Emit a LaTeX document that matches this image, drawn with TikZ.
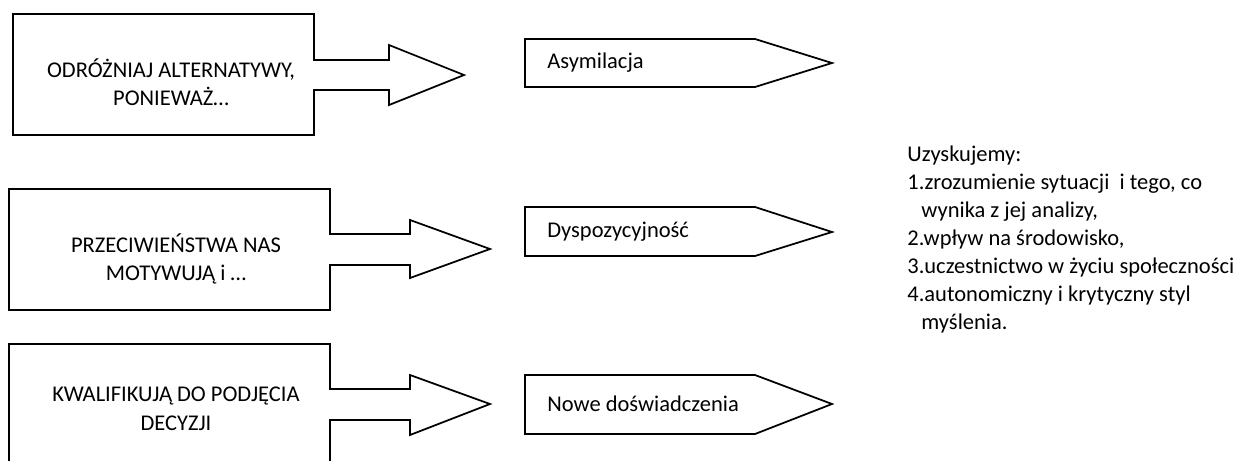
\documentclass[tikz,border=0pt]{standalone}
\usepackage{fontspec}
\setmainfont{Carlito}
\usetikzlibrary{positioning}
\tikzset{
  outline/.style={draw=black, line width=1pt, line join=miter},
  boxtext/.style={align=center, inner sep=0pt, font=\fontsize{12.8}{16.2}\selectfont},
  tagtext/.style={anchor=west, inner sep=0pt, font=\fontsize{12.8}{16.2}\selectfont},
  listtext/.style={anchor=north west, align=left, inner sep=0pt, font=\fontsize{12.8}{15.9}\selectfont},
}

\begin{document}
\begin{tikzpicture}[x=0.02cm, y=-0.02cm]
\useasboundingbox (0,0) rectangle (1234,460);
\clip (0,0) rectangle (1234,460);
% box arrows
\draw[outline] (314,60) -- (389,60) -- (389,45) -- (464,75) -- (389,105) -- (389,90)
  -- (314,90) -- (314,135) -- (13,135) -- (13,14) -- (314,14) -- cycle;
\draw[outline] (330,234) -- (410,234) -- (410,220) -- (490,249) -- (410,278) -- (410,265)
  -- (330,265) -- (330,310) -- (9,310) -- (9,189) -- (330,189) -- cycle;
\draw[outline] (330,389) -- (410,389) -- (410,375) -- (490,404) -- (410,435) -- (410,420)
  -- (330,420) -- (330,470) -- (9,470) -- (9,344) -- (330,344) -- cycle;
\node[boxtext] (alt) at (171,82) {ODRÓŻNIAJ ALTERNATYWY,\\PONIEWAŻ…};
\node[boxtext] (opp) at (176,259) {PRZECIWIEŃSTWA NAS\\MOTYWUJĄ i …};
\node[boxtext] (dec) at (176,409) {KWALIFIKUJĄ DO PODJĘCIA\\DECYZJI};
% tags
\draw[outline] (525,39) -- (755,39) -- (832,63) -- (755,87) -- (525,87) -- cycle;
\draw[outline] (525,207) -- (755,207) -- (832,232) -- (755,256) -- (525,256) -- cycle;
\draw[outline] (525,375) -- (755,375) -- (832,404) -- (755,434) -- (525,434) -- cycle;
\node[tagtext] (asym) at (547,63) {Asymilacja};
\node[tagtext] (disp) at (547,232) {Dyspozycyjność};
\node[tagtext] (exp) at (547,404) {Nowe doświadczenia};
% result list
\node[listtext] (gain) at (907,146) {Uzyskujemy:\\
  1.zrozumienie sytuacji \ i tego, co\\
  \hspace*{8pt}wynika z jej analizy,\\
  2.wpływ na środowisko,\\
  3.uczestnictwo w życiu społeczności\\
  4.autonomiczny i krytyczny styl\\
  \hspace*{8pt}myślenia.};
\end{tikzpicture}
\end{document}
